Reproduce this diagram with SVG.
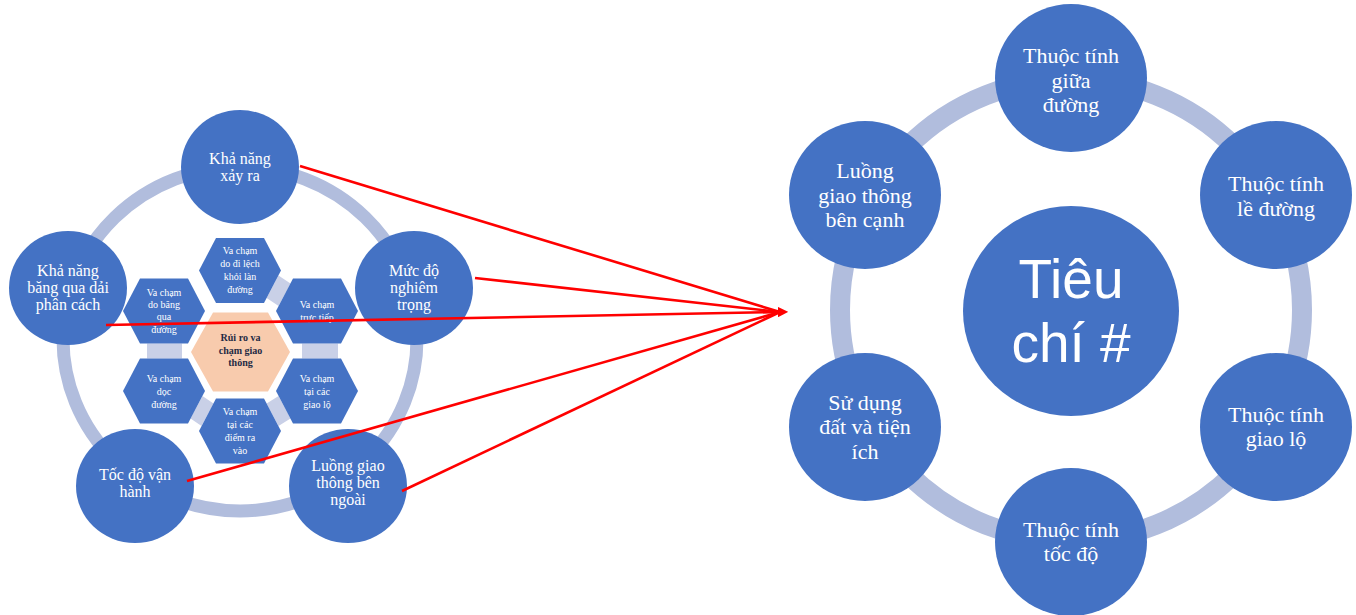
<svg xmlns="http://www.w3.org/2000/svg" width="1356" height="615" viewBox="0 0 1356 615">
<defs>
<style>
.ring{fill:none;stroke:#b1bddd}
.node{fill:#4472c4}
.hex{fill:#4472c4}
.bridge{fill:#c9d0e7}
.core{fill:#f8cbad}
.t{font-family:"Liberation Serif","Times New Roman",serif;fill:#ffffff;text-anchor:middle}
.ts{font-size:16px}
.tl{font-size:22px}
.th{font-size:10px}
.tc{font-size:10px;font-weight:bold;fill:#1f2a44}
.big{font-family:"Liberation Sans",Arial,sans-serif;font-size:55px;fill:#ffffff;text-anchor:middle}
.link{stroke:#ff0000;stroke-width:2.6;fill:none}
</style>
<marker id="ah" viewBox="0 0 10 10" refX="2" refY="5" markerWidth="4" markerHeight="4" orient="auto" markerUnits="strokeWidth">
<path d="M0,0 L10,5 L0,10 Z" fill="#ff0000"/>
</marker>
</defs>
<rect width="1356" height="615" fill="#ffffff"/>

<!-- Left diagram -->
<ellipse class="ring" cx="240" cy="339" rx="177" ry="172" stroke-width="13"/>

<g id="bridges">
<polygon class="bridge" points="266.6,298.1 278.5,275.4 290.5,283.4 278.6,306.1"/>
<polygon class="bridge" points="302,343.5 338,343.5 338,358.5 302,358.5"/>
<polygon class="bridge" points="278.6,395.9 290.5,418.6 278.5,426.1 266.6,403.4"/>
<polygon class="bridge" points="202.5,395.9 213.5,403.4 201.5,426.1 190.5,418.6"/>
<polygon class="bridge" points="147,343.5 182,343.5 182,358.5 147,358.5"/>
</g>

<g id="hex-center">
<polygon class="core" points="191,352 213,312.5 268,312.5 290,352 268,391.5 213,391.5"/>
<text class="t tc" x="240.5" y="341">Rủi ro va</text>
<text class="t tc" x="240.5" y="353.5">chạm giao</text>
<text class="t tc" x="240.5" y="366">thông</text>
</g>
<g id="hex-top">
<polygon class="hex" points="199,270.5 216,238 264,238 281,270.5 264,303 216,303"/>
<text class="t th" x="240" y="254">Va chạm</text>
<text class="t th" x="240" y="267">do đi lệch</text>
<text class="t th" x="240" y="280">khỏi làn</text>
<text class="t th" x="240" y="293">đường</text>
</g>
<g id="hex-upper-left">
<polygon class="hex" points="123,311 140,278.5 188,278.5 205,311 188,343.5 140,343.5"/>
<text class="t th" x="164" y="296">Va chạm</text>
<text class="t th" x="164" y="308">do băng</text>
<text class="t th" x="164" y="320">qua</text>
<text class="t th" x="164" y="333">đường</text>
</g>
<g id="hex-upper-right">
<polygon class="hex" points="276,311 293,278.5 341,278.5 358,311 341,343.5 293,343.5"/>
<text class="t th" x="317" y="308">Va chạm</text>
<text class="t th" x="317" y="321">trực tiếp</text>
</g>
<g id="hex-lower-left">
<polygon class="hex" points="123,391 140,358.5 188,358.5 205,391 188,423.5 140,423.5"/>
<text class="t th" x="164" y="382">Va chạm</text>
<text class="t th" x="164" y="395">dọc</text>
<text class="t th" x="164" y="408">đường</text>
</g>
<g id="hex-lower-right">
<polygon class="hex" points="276,391 293,358.5 341,358.5 358,391 341,423.5 293,423.5"/>
<text class="t th" x="317" y="382">Va chạm</text>
<text class="t th" x="317" y="395">tại các</text>
<text class="t th" x="317" y="408">giao lộ</text>
</g>
<g id="hex-bottom">
<polygon class="hex" points="199,431 216,398.5 264,398.5 281,431 264,463.5 216,463.5"/>
<text class="t th" x="240" y="415">Va chạm</text>
<text class="t th" x="240" y="428">tại các</text>
<text class="t th" x="240" y="441">điểm ra</text>
<text class="t th" x="240" y="454">vào</text>
</g>

<g id="n-kha-nang-xay-ra">
<ellipse class="node" cx="240" cy="167" rx="59" ry="57"/>
<text class="t ts" x="240" y="164">Khả năng</text>
<text class="t ts" x="240" y="181">xảy ra</text>
</g>
<g id="n-muc-do">
<ellipse class="node" cx="414" cy="288" rx="59" ry="57"/>
<text class="t ts" x="414" y="276">Mức độ</text>
<text class="t ts" x="414" y="293">nghiêm</text>
<text class="t ts" x="414" y="310">trọng</text>
</g>
<g id="n-bang-qua">
<ellipse class="node" cx="68" cy="288" rx="59" ry="57"/>
<text class="t ts" x="68" y="276">Khả năng</text>
<text class="t ts" x="68" y="293">băng qua dải</text>
<text class="t ts" x="68" y="310">phân cách</text>
</g>
<g id="n-toc-do">
<ellipse class="node" cx="135" cy="486" rx="59" ry="57"/>
<text class="t ts" x="135" y="480">Tốc độ vận</text>
<text class="t ts" x="135" y="497">hành</text>
</g>
<g id="n-luong-ngoai">
<ellipse class="node" cx="348" cy="486" rx="59" ry="57"/>
<text class="t ts" x="348" y="471">Luồng giao</text>
<text class="t ts" x="348" y="488">thông bên</text>
<text class="t ts" x="348" y="505">ngoài</text>
</g>

<!-- Right diagram -->
<circle class="ring" cx="1071" cy="310" r="231" stroke-width="20"/>

<g id="n-tieu-chi">
<ellipse class="node" cx="1071" cy="311" rx="108" ry="105"/>
<text class="big" x="1071" y="298">Tiêu</text>
<text class="big" x="1071" y="362">chí #</text>
</g>
<g id="n-giua-duong">
<ellipse class="node" cx="1071" cy="78" rx="76" ry="74"/>
<text class="t tl" x="1071" y="63">Thuộc tính</text>
<text class="t tl" x="1071" y="88">giữa</text>
<text class="t tl" x="1071" y="112">đường</text>
</g>
<g id="n-le-duong">
<ellipse class="node" cx="1276" cy="195" rx="76" ry="74"/>
<text class="t tl" x="1276" y="191">Thuộc tính</text>
<text class="t tl" x="1276" y="216">lề đường</text>
</g>
<g id="n-giao-lo">
<ellipse class="node" cx="1276" cy="427" rx="76" ry="74"/>
<text class="t tl" x="1276" y="422">Thuộc tính</text>
<text class="t tl" x="1276" y="446">giao lộ</text>
</g>
<g id="n-toc-do-r">
<ellipse class="node" cx="1071" cy="542" rx="76" ry="74"/>
<text class="t tl" x="1071" y="537">Thuộc tính</text>
<text class="t tl" x="1071" y="561">tốc độ</text>
</g>
<g id="n-su-dung-dat">
<ellipse class="node" cx="865" cy="427" rx="76" ry="74"/>
<text class="t tl" x="865" y="410">Sử dụng</text>
<text class="t tl" x="865" y="434">đất và tiện</text>
<text class="t tl" x="865" y="459">ích</text>
</g>
<g id="n-luong-canh">
<ellipse class="node" cx="865" cy="195" rx="76" ry="74"/>
<text class="t tl" x="865" y="178">Luồng</text>
<text class="t tl" x="865" y="203">giao thông</text>
<text class="t tl" x="865" y="227">bên cạnh</text>
</g>

<g id="connectors">
<line class="link" x1="300" y1="166" x2="780" y2="312"/>
<line class="link" x1="475" y1="278" x2="780" y2="312"/>
<line class="link" x1="106" y1="325" x2="780" y2="312" marker-end="url(#ah)"/>
<line class="link" x1="187" y1="481" x2="780" y2="312"/>
<line class="link" x1="402" y1="491" x2="780" y2="312"/>
</g>
</svg>
